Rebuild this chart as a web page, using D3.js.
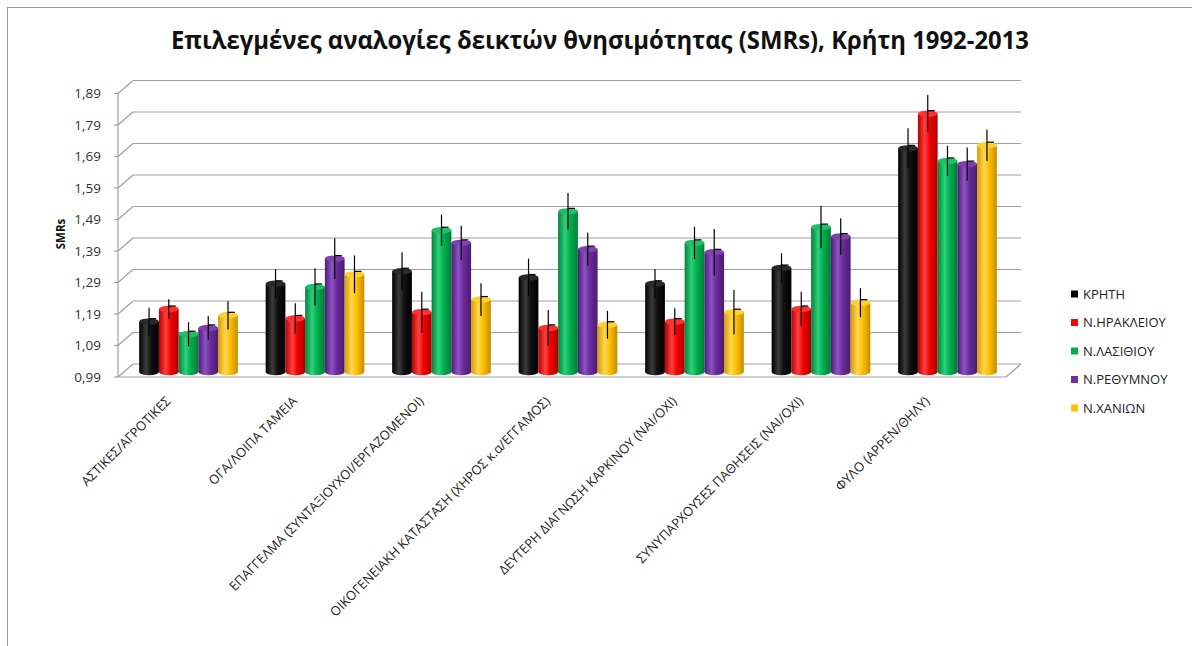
<!DOCTYPE html>
<html>
<head>
<meta charset="utf-8">
<script src="https://cdn.jsdelivr.net/npm/d3@7/dist/d3.min.js"></script>
<style>
  html, body { margin: 0; padding: 0; background: #fff; }
  svg { display: block; font-family: "Open Sans", "Noto Sans", sans-serif; }
</style>
</head>
<body>
<svg id="chart" width="1192" height="646"></svg>
<script>
// Categories (x axis)
const categories = [
  "ΑΣΤΙΚΕΣ/ΑΓΡΟΤΙΚΕΣ",
  "ΟΓΑ/ΛΟΙΠΑ ΤΑΜΕΙΑ",
  "ΕΠΑΓΓΕΛΜΑ  (ΣΥΝΤΑΞΙΟΥΧΟΙ/ΕΡΓΑΖΟΜΕΝΟΙ)",
  "ΟΙΚΟΓΕΝΕΙΑΚΗ ΚΑΤΑΣΤΑΣΗ (ΧΗΡΟΣ κ.α/ΕΓΓΑΜΟΣ)",
  "ΔΕΥΤΕΡΗ  ΔΙΑΓΝΩΣΗ ΚΑΡΚΙΝΟΥ (ΝΑΙ/ΟΧΙ)",
  "ΣΥΝΥΠΑΡΧΟΥΣΕΣ  ΠΑΘΗΣΕΙΣ (ΝΑΙ/ΟΧΙ)",
  "ΦΥΛΟ (ΑΡΡΕΝ/ΘΗΛΥ)"
];

// Series names (legend)
const seriesNames = ["ΚΡΗΤΗ", "Ν.ΗΡΑΚΛΕΙΟΥ", "Ν.ΛΑΣΙΘΙΟΥ", "Ν.ΡΕΘΥΜΝΟΥ", "Ν.ΧΑΝΙΩΝ"];

// SMR ratios per series
const kritiValues     = [1.15, 1.27, 1.31, 1.29, 1.27, 1.32, 1.70];
const irakleiouValues = [1.19, 1.16, 1.18, 1.13, 1.15, 1.19, 1.81];
const lasithiouValues = [1.11, 1.26, 1.44, 1.50, 1.40, 1.45, 1.66];
const rethymnouValues = [1.13, 1.35, 1.40, 1.38, 1.37, 1.42, 1.65];
const chanionValues   = [1.17, 1.30, 1.22, 1.14, 1.18, 1.21, 1.71];

// Error bar half-widths per series
const kritiErrors     = [0.044, 0.046, 0.060, 0.060, 0.046, 0.047, 0.064];
const irakleiouErrors = [0.031, 0.048, 0.065, 0.057, 0.042, 0.055, 0.059];
const lasithiouErrors = [0.038, 0.059, 0.050, 0.058, 0.051, 0.067, 0.048];
const rethymnouErrors = [0.038, 0.065, 0.054, 0.052, 0.074, 0.058, 0.053];
const chanionErrors   = [0.045, 0.060, 0.052, 0.044, 0.070, 0.046, 0.050];

// Y axis ticks
const yTicks = [0.99, 1.09, 1.19, 1.29, 1.39, 1.49, 1.59, 1.69, 1.79, 1.89];

const title = "Επιλεγμένες αναλογίες δεικτών θνησιμότητας (SMRs), Κρήτη 1992-2013";
const yAxisTitle = "SMRs";

const seriesValues = [kritiValues, irakleiouValues, lasithiouValues, rethymnouValues, chanionValues];
const seriesErrors = [kritiErrors, irakleiouErrors, lasithiouErrors, rethymnouErrors, chanionErrors];

// Cylinder colours: [left edge, highlight, mid, right edge]
const palette = [
  { base: "#000000", stops: ["#000000", "#3c3c3c", "#111111", "#000000"], top: "#2a2a2a" },
  { base: "#ff0000", stops: ["#b80000", "#ff4040", "#f20000", "#a80000"], top: "#ff3030" },
  { base: "#00b050", stops: ["#00833b", "#2fd07a", "#00b050", "#007c37"], top: "#20c068" },
  { base: "#7030a0", stops: ["#4c1d75", "#8e52c4", "#6b2c9a", "#4a1c72"], top: "#8040b0" },
  { base: "#ffc000", stops: ["#d49a00", "#ffd750", "#ffc000", "#c48c00"], top: "#ffd030" }
];

const svg = d3.select("#chart");
const W = 1192, H = 646;

// chart frame (top and left edges visible)
svg.append("rect")
  .attr("x", 7.5).attr("y", 7.5)
  .attr("width", W + 10).attr("height", H + 10)
  .attr("fill", "none").attr("stroke", "#9a9a9a").attr("stroke-width", 1);

// gradients
const defs = svg.append("defs");
palette.forEach((p, i) => {
  const g = defs.append("linearGradient").attr("id", "cyl" + i)
    .attr("x1", "0%").attr("x2", "100%").attr("y1", "0%").attr("y2", "0%");
  [0, 0.35, 0.6, 1].forEach((o, k) => {
    g.append("stop").attr("offset", (o * 100) + "%").attr("stop-color", p.stops[k]);
  });
});

// Title
svg.append("text")
  .attr("x", 600).attr("y", 49)
  .attr("text-anchor", "middle")
  .attr("font-size", 25).attr("font-weight", "bold").attr("fill", "#111")
  .attr("textLength", 858).attr("lengthAdjust", "spacingAndGlyphs")
  .text(title);

// 3D frame geometry
const front = { left: 118, right: 1006 };
const depth = { dx: 15, dy: -13 };
const barDepth = { dx: 6, dy: -5 };

const y = d3.scaleLinear().domain([0.99, 1.89]).range([377, 93.5]);

const x0 = d3.scaleBand().domain(categories)
  .range([front.left, front.right])
  .paddingInner(0.22).paddingOuter(0.12);
const x1 = d3.scaleBand().domain(seriesNames).range([0, x0.bandwidth()]).padding(0);

const grid = svg.append("g").attr("stroke", "#a0a0a0").attr("stroke-width", 1.2).attr("fill", "none");

// back wall gridlines and side wall diagonals
yTicks.forEach(v => {
  grid.append("line")
    .attr("x1", front.left + depth.dx).attr("x2", front.right + depth.dx)
    .attr("y1", y(v) + depth.dy).attr("y2", y(v) + depth.dy);
  grid.append("line")
    .attr("x1", front.left).attr("x2", front.left + depth.dx)
    .attr("y1", y(v)).attr("y2", y(v) + depth.dy);
  grid.append("line")
    .attr("x1", front.left - 4).attr("x2", front.left)
    .attr("y1", y(v)).attr("y2", y(v));
});
// left front edge
grid.append("line")
  .attr("x1", front.left).attr("x2", front.left)
  .attr("y1", y(0.99)).attr("y2", y(1.89));
// floor front edge and right diagonal
grid.append("line")
  .attr("x1", front.left).attr("x2", front.right)
  .attr("y1", y(0.99)).attr("y2", y(0.99));
grid.append("line")
  .attr("x1", front.right).attr("x2", front.right + depth.dx)
  .attr("y1", y(0.99)).attr("y2", y(0.99) + depth.dy);

// Y tick labels
svg.append("g").selectAll("text").data(yTicks).join("text")
  .attr("x", 101).attr("y", d => y(d))
  .attr("dy", "0.35em")
  .attr("text-anchor", "end")
  .attr("font-size", 13.5).attr("fill", "#333")
  .text(d => d3.format(".2f")(d).replace(".", ","));

// Y axis title
svg.append("text")
  .attr("transform", "translate(61,234) rotate(-90)")
  .attr("text-anchor", "middle").attr("dy", "0.35em")
  .attr("font-size", 11.5).attr("font-weight", "bold").attr("fill", "#111")
  .text(yAxisTitle);

// bars (cylinders)
const ry = 3.2;
const barsG = svg.append("g");
const errG = svg.append("g");
categories.forEach((cat, ci) => {
  seriesNames.forEach((s, si) => {
    const v = seriesValues[si][ci];
    const e = seriesErrors[si][ci];
    const bx = x0(cat) + x1(s) + barDepth.dx;
    const bw = x1.bandwidth();
    const cx = bx + bw / 2;
    const yb = y(0.99) + barDepth.dy;
    const yt = y(v) + barDepth.dy;
    const g = barsG.append("g");
    // bottom cap
    g.append("ellipse").attr("cx", cx).attr("cy", yb).attr("rx", bw / 2).attr("ry", ry)
      .attr("fill", `url(#cyl${si})`);
    // body
    g.append("rect").attr("x", bx).attr("y", yt).attr("width", bw).attr("height", yb - yt)
      .attr("fill", `url(#cyl${si})`);
    // top cap
    g.append("ellipse").attr("cx", cx).attr("cy", yt).attr("rx", bw / 2).attr("ry", ry)
      .attr("fill", palette[si].top);

    // error bar with a small marker at the value
    errG.append("line")
      .attr("x1", cx).attr("x2", cx)
      .attr("y1", y(v + e) + barDepth.dy).attr("y2", y(v - e) + barDepth.dy)
      .attr("stroke", "#000").attr("stroke-width", 1.2);
    errG.append("line")
      .attr("x1", cx).attr("x2", cx + 7)
      .attr("y1", yt - 3).attr("y2", yt - 3)
      .attr("stroke", "#000").attr("stroke-width", 1.2);
  });
});

// X category labels
svg.append("g").selectAll("text").data(categories).join("text")
  .attr("transform", d => `translate(${x0(d) + x0.bandwidth() / 2 + barDepth.dx - 17},402) rotate(-45)`)
  .attr("text-anchor", "end")
  .attr("font-size", 13).attr("fill", "#222")
  .text(d => d);

// Legend
const legend = svg.append("g");
seriesNames.forEach((s, i) => {
  const ly = 294 + i * 28.5;
  legend.append("rect").attr("x", 1071).attr("y", ly - 3.5).attr("width", 7).attr("height", 7)
    .attr("fill", palette[i].base);
  legend.append("text").attr("x", 1083).attr("y", ly).attr("dy", "0.35em")
    .attr("font-size", 13).attr("fill", "#222").text(s);
});
</script>
</body>
</html>
